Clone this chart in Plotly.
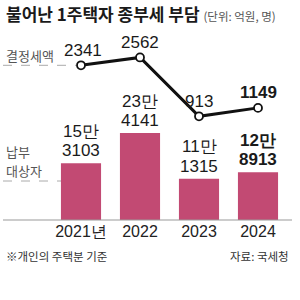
import plotly.graph_objects as go

years = ["2021년", "2022", "2023", "2024"]
tax_amount = [2341, 2562, 913, 1149]          # 결정세액 (억원)
taxpayers = [153103, 234141, 111315, 128913]  # 납부 대상자 (명)

W, H = 300, 300
PLOT_TOP, PLOT_BOT = 30, 220

def py(p):
    return 1 - p / H

def px(p):
    return p / W

KR = "Noto Sans CJK KR, Noto Sans, sans-serif"
NUM = "Liberation Sans, Arial, sans-serif"
BAR_COLOR = "#C24A73"

xs = list(range(len(years)))

fig = go.Figure()
fig.add_trace(go.Bar(
    x=xs, y=taxpayers, width=0.68, marker=dict(color=BAR_COLOR, line=dict(width=0)),
    yaxis="y", hoverinfo="skip"))
fig.add_trace(go.Scatter(
    x=xs, y=tax_amount, yaxis="y2", mode="lines+markers",
    line=dict(color="#111111", width=3),
    marker=dict(symbol="circle", size=8, color="white", line=dict(color="#111111", width=1.8)),
    hoverinfo="skip", cliponaxis=False))

k1 = 233 / 627472
y1max = (PLOT_BOT - PLOT_TOP) / k1

annotations = []
# line labels
for i, v in enumerate(tax_amount):
    annotations.append(dict(
        x=i, y=v, xref="x", yref="y2", text=f"{v}", showarrow=False,
        yanchor="middle", yshift=15, xshift=2 if i == 0 else 0,
        font=dict(family=NUM, size=17, color="#1a1a1a",
                  weight="bold" if i == len(tax_amount) - 1 else "normal")))
# bar labels
for i, v in enumerate(taxpayers):
    man, rest = divmod(v, 10000)
    bold = "bold" if i == len(taxpayers) - 1 else "normal"
    annotations.append(dict(
        x=i, y=v, xref="x", yref="y", text=f"{man}만", showarrow=False,
        yanchor="middle", yshift=32,
        font=dict(family=NUM, size=17, color="#1a1a1a", weight=bold)))
    annotations.append(dict(
        x=i, y=v, xref="x", yref="y", text=f"{rest:04d}", showarrow=False,
        yanchor="middle", yshift=12.5,
        font=dict(family=NUM, size=17, color="#1a1a1a", weight=bold)))

# title & notes
annotations += [
    dict(x=px(4), y=py(14), xref="paper", yref="paper", xanchor="left", yanchor="middle",
         text="<b>불어난 1주택자 종부세 부담</b> <span style='font-size:11.5px;color:#555'>(단위: 억원, 명)</span>",
         showarrow=False, font=dict(family=KR, size=17, color="#1a1a1a")),
    dict(x=px(4), y=py(55), xref="paper", yref="paper", xanchor="left", yanchor="middle",
         text="결정세액", showarrow=False, font=dict(family=KR, size=13, color="#555")),
    dict(x=px(4), y=py(151), xref="paper", yref="paper", xanchor="left", yanchor="middle",
         text="납부", showarrow=False, font=dict(family=KR, size=13, color="#555")),
    dict(x=px(4), y=py(170), xref="paper", yref="paper", xanchor="left", yanchor="middle",
         text="대상자", showarrow=False, font=dict(family=KR, size=13, color="#555")),
    dict(x=px(4), y=py(256), xref="paper", yref="paper", xanchor="left", yanchor="middle",
         text="※개인의 주택분 기준", showarrow=False, font=dict(family=KR, size=11.5, color="#333")),
    dict(x=px(291), y=py(256), xref="paper", yref="paper", xanchor="right", yanchor="middle",
         text="자료: 국세청", showarrow=False, font=dict(family=KR, size=11.5, color="#333")),
]

shapes = [
    dict(type="line", xref="paper", yref="y2", x0=px(3), x1=px(76),
         y0=tax_amount[0], y1=tax_amount[0], line=dict(color="#aaaaaa", width=1, dash="dash"), layer="below"),
    dict(type="line", xref="paper", yref="paper", x0=px(3), x1=px(61),
         y0=py(181), y1=py(181), line=dict(color="#aaaaaa", width=1, dash="dash"), layer="below"),
    dict(type="line", xref="paper", yref="paper", x0=px(3), x1=px(292),
         y0=py(PLOT_BOT), y1=py(PLOT_BOT), line=dict(color="#999999", width=1.2)),
]

fig.update_layout(
    width=W, height=H, margin=dict(l=0, r=0, t=0, b=0),
    paper_bgcolor="white", plot_bgcolor="white", showlegend=False,
    xaxis=dict(domain=[0, 1], range=[-81 / 59, 219 / 59], tickmode="array",
               tickvals=xs, ticktext=years, showgrid=False, zeroline=False, showline=False,
               ticks="", ticklen=0, tickfont=dict(family=NUM, size=16, color="#222")),
    yaxis=dict(domain=[py(PLOT_BOT), py(PLOT_TOP)], range=[0, y1max], visible=False),
    yaxis2=dict(domain=[py(PLOT_BOT), py(PLOT_TOP)], range=[-1991, 3330], overlaying="y",
                visible=False, anchor="x"),
    annotations=annotations, shapes=shapes,
)

fig.write_html("out.html")
